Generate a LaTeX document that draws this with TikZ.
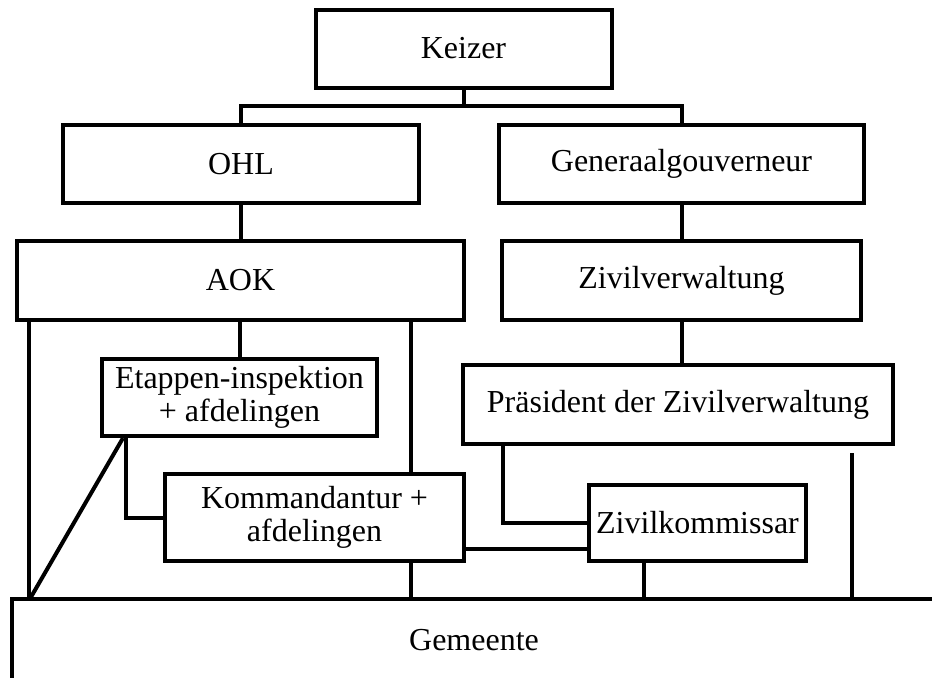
\documentclass[tikz,border=0pt]{standalone}
\usepackage{fontspec}
\setmainfont{Liberation Serif}
\usetikzlibrary{calc,positioning}

\begin{document}
\begin{tikzpicture}[x=0.5pt,y=-0.5pt,line width=2pt,
    orgbox/.style={draw,rectangle,inner sep=0pt,align=center,
      font=\fontsize{16}{16.5}\selectfont}]
        \useasboundingbox (0,0) rectangle (932,677);
        \clip (0,0) rectangle (932,677);
        % boxes
        \node [orgbox,minimum width=148pt,minimum height=39pt] (keizer) at (463.5,48.5) {Keizer};
        \node [orgbox,minimum width=178pt,minimum height=39pt] (ohl) at (241,164) {OHL};
        \node [orgbox,minimum width=182.5pt,minimum height=39pt] (gen) at (681.5,164) {Generaalgouverneur};
        \node [orgbox,minimum width=223.5pt,minimum height=39.5pt] (aok) at (240.5,280.5) {AOK};
        \node [orgbox,minimum width=179.5pt,minimum height=39.5pt] (ziv) at (681.5,280.5) {Zivilverwaltung};
        \node [orgbox,minimum width=137.5pt,minimum height=38.5pt] (etap) at (239.5,397.5) {Etappen-inspektion\\+ afdelingen};
        \node [orgbox,minimum width=149.5pt,minimum height=43.5pt] (komm) at (314.5,517.5) {Kommandantur +\\afdelingen};
        \node [orgbox,minimum width=215pt,minimum height=39.5pt] (pras) at (678,404.5) {Präsident der Zivilverwaltung};
        \node [orgbox,minimum width=108.5pt,minimum height=38pt] (zk) at (697.5,523) {Zivilkommissar};
        \node [orgbox,minimum width=462pt,minimum height=41pt] (gem) at (474,640) {Gemeente};
        % lines
        \coordinate (bus) at (0,106);
        \draw (keizer.south) -- (keizer.south |- bus);
        \draw (ohl.north) -- (ohl.north |- bus) -- (gen.north |- bus) -- (gen.north);
        \draw (ohl.south) -- (ohl.south |- aok.north);
        \draw (gen.south) -- (ziv.north);
        \draw (etap.north) -- (etap.north |- aok.south);
        \coordinate (aokl) at ($(aok.south west)+(14,0)$);
        \draw (aokl) -- (aokl |- gem.north);
        \coordinate (aokr) at ($(aok.south east)+(-55,0)$);
        \draw (aokr) -- (aokr |- komm.north);
        \draw (aokr |- komm.south) -- (aokr |- gem.north);
        \draw ($(etap.south west)+(23,0)$) -- ($(aokl |- gem.north)+(2,0)$);
        \draw ($(etap.south west)+(26,0)$) |- (komm.west);
        \draw (ziv.south) -- (ziv.south |- pras.north);
        \draw ($(pras.south west)+(42,0)$) |- (zk.west);
        \coordinate (kz) at ($(komm.east)+(0,31)$);
        \draw (kz) -- (kz -| zk.west);
        \coordinate (zkb) at ($(zk.south)+(-54,0)$);
        \draw (zkb) -- (zkb |- gem.north);
        \coordinate (prb) at ($(pras.south east)+(-43,7)$);
        \draw (prb) -- (prb |- gem.north);
\end{tikzpicture}
\end{document}
